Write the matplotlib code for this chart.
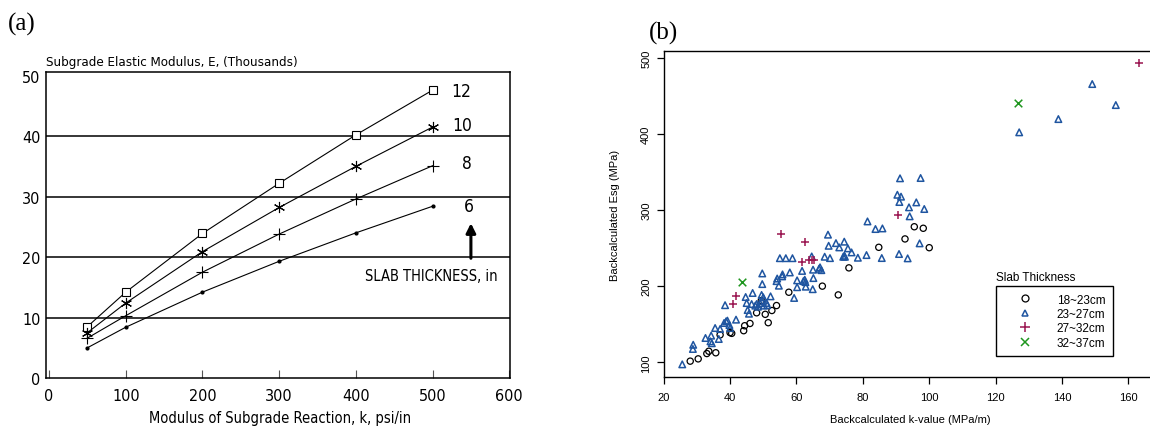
import matplotlib
matplotlib.use("Agg")
import matplotlib.pyplot as plt
from matplotlib.lines import Line2D
from matplotlib.font_manager import FontProperties

# ---------------- Panel (a) data ----------------
k_psi = [50, 100, 200, 300, 400, 500]
E_12in = [8.5, 14.2, 23.9, 32.2, 40.2, 47.6]
E_10in = [7.5, 12.4, 20.9, 28.2, 35.0, 41.5]
E_8in = [6.6, 10.3, 17.5, 23.8, 29.6, 35.1]
E_6in = [5.0, 8.4, 14.2, 19.3, 24.0, 28.4]
curve_labels = ["12", "10", "8", "6"]
a_xticks = [0, 100, 200, 300, 400, 500, 600]
a_yticks = [0, 10, 20, 30, 40, 50]

# ---------------- Panel (b) data ----------------
c18_k = [28.0, 30.4, 33.0, 33.6, 35.7, 37.0, 40.0, 40.5, 44.1, 44.4, 46.0, 48.0,
         49.4, 50.6, 51.5, 52.6, 54.0, 57.7, 67.8, 72.6, 75.8, 84.8, 92.7, 95.5,
         98.2, 100.0]
c18_E = [101.5, 104.5, 111.5, 114.5, 112.5, 136.0, 139.0, 138.0, 141.5, 148.0, 151.0, 165.0,
         181.0, 163.0, 152.0, 168.0, 174.5, 192.0, 200.0, 188.5, 224.0, 251.0, 262.0, 278.0,
         276.0, 250.5]

c23_k = [25.6, 28.9, 28.8, 32.6, 34.3, 34.1, 34.5, 35.5, 37.0, 36.6, 38.2, 38.8,
         39.2, 38.5, 40.0, 39.8, 41.8, 44.7, 45.0, 45.3, 45.7, 46.5, 46.8, 49.7,
         49.7, 49.5, 50.0, 47.6, 48.0, 48.4, 49.0, 49.6, 50.2, 51.0, 51.2, 52.2,
         54.2, 54.0, 54.7, 55.0, 55.7, 55.8, 56.8, 58.0, 58.8, 59.3, 60.2, 60.2,
         61.7, 62.1, 62.5, 62.8, 62.7, 64.6, 65.0, 65.1, 64.9, 66.8, 67.1, 67.5,
         69.5, 69.7, 68.5, 70.1, 71.9, 72.9, 74.4, 74.1, 74.4, 74.6, 75.5, 76.6,
         78.5, 81.4, 81.1, 83.8, 85.9, 85.7, 90.9, 93.5, 97.1, 94.1, 93.9, 96.1,
         98.5, 90.4, 91.5, 91.0, 91.2, 97.4, 127.1, 138.9, 149.1, 156.2]
c23_E = [97.3, 123.0, 117.5, 131.9, 135.0, 127.5, 125.0, 145.0, 143.7, 130.6, 151.6, 153.8,
         154.7, 175.0, 145.0, 149.0, 156.0, 185.7, 177.8, 168.6, 163.8, 176.5, 191.0, 216.7,
         202.7, 188.4, 185.3, 174.4, 176.5, 173.0, 177.9, 180.5, 174.4, 177.9, 175.0, 186.6,
         210.0, 206.6, 200.6, 236.7, 212.8, 215.4, 236.7, 218.0, 236.7, 184.5, 207.6, 198.6,
         220.0, 206.6, 208.4, 199.3, 205.3, 239.0, 221.6, 210.6, 196.0, 222.8, 224.7, 221.0,
         267.6, 253.0, 238.6, 236.8, 256.5, 250.9, 258.4, 238.6, 240.0, 238.6, 249.6, 244.3,
         237.3, 285.0, 240.8, 275.0, 275.8, 236.9, 242.2, 236.5, 256.2, 291.7, 303.5, 310.0,
         301.3, 320.0, 317.5, 310.5, 341.6, 342.0, 402.0, 419.4, 465.4, 437.8]

c27_k = [40.8, 41.7, 55.2, 62.7, 61.7, 63.9, 64.7, 65.2, 90.7, 163.3]
c27_E = [177.0, 187.0, 268.5, 257.5, 231.3, 234.5, 234.8, 234.0, 293.4, 492.6]

c32_k = [43.5, 126.7]
c32_E = [205.0, 440.5]

legend_labels = ["18~23cm", "23~27cm", "27~32cm", "32~37cm"]
b_xticks = [20, 40, 60, 80, 100, 120, 140, 160]
b_yticks = [100, 200, 300, 400, 500]

ARIAL = ["Liberation Sans", "DejaVu Sans"]
SERIF = ["Liberation Serif", "DejaVu Serif"]


def narrow(size):
    return FontProperties(family=["DejaVu Sans"], stretch="condensed", size=size)


fig = plt.figure(figsize=(11.5, 4.27), dpi=100)

# ================= Panel (a) =================
axa = fig.add_axes([0.0400, 0.1124, 0.4035, 0.7166])
axa.set_xlim(-4, 601)
axa.set_ylim(0, 50.6)
for y in [10, 20, 30, 40]:
    axa.axhline(y, color="black", lw=1.1, zorder=1)

axa.plot(k_psi, E_12in, color="black", lw=0.8, marker="s", ms=6, mfc="white",
         mec="black", mew=0.8, zorder=3)
axa.plot(k_psi, E_10in, color="black", lw=0.8, marker=(6, 2, 0), ms=8,
         mec="black", mew=0.8, zorder=3)
axa.plot(k_psi, E_8in, color="black", lw=0.8, marker="+", ms=8,
         mec="black", mew=0.8, zorder=3)
axa.plot(k_psi, E_6in, color="black", lw=0.8, marker="o", ms=2,
         mfc="black", mec="black", zorder=3)

label_x = [537, 539, 545, 547]
label_y = [47.5, 41.9, 35.5, 28.5]
for lx, ly, t in zip(label_x, label_y, curve_labels):
    axa.text(lx, ly, t, ha="center", va="center", fontproperties=narrow(12.5))

axa.annotate("", xy=(550, 25.6), xytext=(550, 19.8),
             arrowprops=dict(arrowstyle="-|>", color="black", lw=2.2,
                             mutation_scale=14, shrinkA=0, shrinkB=0))
axa.text(498, 16.9, "SLAB THICKNESS, in", ha="center", va="center",
         fontproperties=narrow(10.5))

axa.set_xticks(a_xticks)
axa.set_yticks(a_yticks)
axa.set_xticklabels([str(v) for v in a_xticks], fontproperties=narrow(11.5))
axa.set_yticklabels([str(v) for v in a_yticks], fontproperties=narrow(11.5))
axa.tick_params(axis="x", direction="in", length=6, width=0.8, pad=7, color="#555555")
axa.tick_params(axis="y", length=0, pad=4)
for s in axa.spines.values():
    s.set_linewidth(1.1)
    s.set_color("black")

axa.set_xlabel("Modulus of Subgrade Reaction, k, psi/in", fontproperties=narrow(10.5))
axa.xaxis.set_label_coords(0.504, -0.105)
axa.text(0.0, 1.036, "Subgrade Elastic Modulus, E, (Thousands)", transform=axa.transAxes,
         ha="left", va="center", fontproperties=narrow(9.5))

fig.text(22 / 1150, 1 - 24 / 427, "(a)", ha="center", va="center", fontsize=18, family=SERIF)

# ================= Panel (b) =================
axb = fig.add_axes([0.5771, 0.1155, 0.4229, 0.762])
axb.set_xlim(20, 166.5)
axb.set_ylim(81.1, 508.4)

col18 = "black"
col23 = "#1f55a0"
col27 = "#9a1550"
col32 = "#1e961e"

axb.scatter(c18_k, c18_E, marker="o", s=20, facecolors="none", edgecolors=col18,
            linewidths=0.9, zorder=3)
axb.scatter(c23_k, c23_E, marker="^", s=22, facecolors="none", edgecolors=col23,
            linewidths=1.1, zorder=3)
axb.scatter(c27_k, c27_E, marker="+", s=40, color=col27, linewidths=1.1, zorder=4)
axb.scatter(c32_k, c32_E, marker="x", s=30, color=col32, linewidths=1.1, zorder=4)

axb.set_xticks(b_xticks)
axb.set_yticks(b_yticks)
axb.set_xticklabels([str(v) for v in b_xticks], family=ARIAL, fontsize=8)
axb.set_yticklabels([str(v) for v in b_yticks], family=ARIAL, fontsize=8,
                    rotation=90, va="center")
axb.tick_params(axis="x", direction="out", length=5, width=0.9, pad=6)
axb.tick_params(axis="y", direction="out", length=5, width=0.9, pad=4)
axb.spines["right"].set_visible(False)
for side in ["left", "top", "bottom"]:
    axb.spines[side].set_linewidth(1.0)
    axb.spines[side].set_color("black")

axb.set_xlabel("Backcalculated k-value (MPa/m)", family=ARIAL, fontsize=8)
axb.xaxis.set_label_coords(0.507, -0.115)
axb.set_ylabel("Backcalculated Esg (MPa)", family=ARIAL, fontsize=8)
axb.yaxis.set_label_coords(-0.0888, 0.5)

handles = [
    Line2D([], [], linestyle="none", marker="o", ms=5, mfc="none", mec=col18, mew=0.9),
    Line2D([], [], linestyle="none", marker="^", ms=5, mfc="none", mec=col23, mew=1.1),
    Line2D([], [], linestyle="none", marker="+", ms=6.5, mec=col27, mew=1.1),
    Line2D([], [], linestyle="none", marker="x", ms=5.5, mec=col32, mew=1.1),
]
leg = axb.legend(handles, legend_labels, loc="upper left",
                 bbox_to_anchor=(0.683, 0.279), frameon=True, fancybox=False,
                 edgecolor="black", framealpha=1, borderpad=0.65, handlelength=3.6,
                 handletextpad=0.9, labelspacing=0.2, borderaxespad=0,
                 prop={"family": ARIAL, "size": 8.5})
leg.get_frame().set_linewidth(1.0)
axb.text(0.683, 0.305, "Slab Thickness", transform=axb.transAxes, ha="left",
         va="center", fontsize=8.5, family=ARIAL)

fig.text(663 / 1150, 1 - 33 / 427, "(b)", ha="center", va="center", fontsize=18, family=SERIF)

fig.savefig("out.png", dpi=100)
